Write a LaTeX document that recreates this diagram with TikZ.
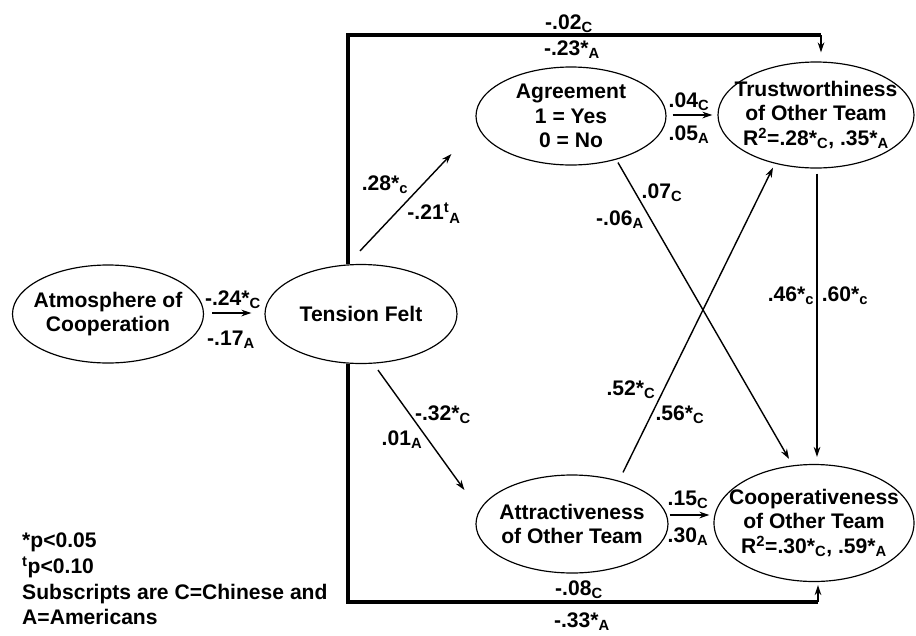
\documentclass[tikz,border=0pt]{standalone}
\usepackage{fontspec}
\setmainfont{Liberation Sans}
\usetikzlibrary{shapes.geometric, arrows.meta}

\tikzset{
  oval/.style={ellipse, draw, line width=1pt, inner sep=0pt},
  txt/.style={align=center, inner sep=0pt},
  lab/.style={inner sep=0pt},
  arr/.style={-{Stealth[length=3mm,width=2mm]}, line width=1.2pt},
  boxline/.style={line width=2.6pt},
}

\begin{document}
\begin{tikzpicture}[x=0.3mm, y=-0.3mm, font=\fontsize{18}{21}\selectfont\bfseries]
  \useasboundingbox (0,0) rectangle (916,635);

  % variables
  \node[oval, minimum width=57.3mm, minimum height=29.4mm] (atm) at (108,314) {};
  \node[txt] (atmt) at (atm) {Atmosphere of\\Cooperation};
  \node[oval, minimum width=57.6mm, minimum height=29.7mm] (ten) at (361,314) {};
  \node[txt] (tent) at (ten) {Tension Felt};
  \node[oval, minimum width=57mm, minimum height=29.4mm] (agr) at (571,116) {};
  \node[txt] (agrt) at (agr) {Agreement\\1 = Yes\\0 = No};
  \node[oval, minimum width=58.8mm, minimum height=31.8mm] (trs) at (816,115) {};
  \node[txt] (trst) at (trs) {Trustworthiness\\of Other Team\\R\textsuperscript{2}=.28*\textsubscript{C}, .35*\textsubscript{A}};
  \node[oval, minimum width=57.6mm, minimum height=29.4mm] (att) at (572,524) {};
  \node[txt] (attt) at (att) {Attractiveness\\of Other Team};
  \node[oval, minimum width=60mm, minimum height=35.1mm] (coo) at (814,523) {};
  \node[txt] (coot) at (coo) {Cooperativeness\\of Other Team\\R\textsuperscript{2}=.30*\textsubscript{C}, .59*\textsubscript{A}};

  % paths
  \draw[arr] ([shift={(8,-1)}]atm.east) -- ([shift={(-13,-1)}]ten.west);
  \draw[arr] ([shift={(-1,-13)}]ten.north) -- ([shift={(-24,38)}]agr.west);
  \draw[arr] ([shift={(17,6)}]ten.south) -- ([shift={(-11,-34)}]att.west);
  \draw[arr] ([shift={(6,-1)}]agr.east) -- ([shift={(-5,0)}]trs.west);
  \draw[arr] ([shift={(47,-3)}]agr.south) -- ([shift={(-25,-5)}]coo.north);
  \draw[arr] ([shift={(51,-2)}]att.north) -- ([shift={(-43,-1)}]trs.south);
  \draw[arr] ([shift={(1,5)}]trs.south) -- ([shift={(3,-7)}]coo.north);
  \draw[arr] ([shift={(1,-9)}]att.east) -- ([shift={(-4,-8)}]coo.west);

  % direct paths from tension, round the box
  \coordinate (tl) at (348,35);
  \coordinate (tr) at (821,35);
  \draw[boxline] ([shift={(-13,0)}]ten.north) -- (tl) -- (tr);
  \draw[arr] (tr) -- ([shift={(5,-9)}]trs.north);
  \coordinate (bl) at (348,602);
  \coordinate (br) at (818,602);
  \draw[boxline] ([shift={(-13,0)}]ten.south) -- (bl) -- (br);
  \draw[arr] (br) -- ([shift={(4,3)}]coo.south);

  % coefficients
  \node[lab] (l24) at (233,300) {-.24*\textsubscript{C}};
  \node[lab] (l17) at (231,340) {-.17\textsubscript{A}};
  \node[lab] (l28) at (385,185) {.28*\textsubscript{c}};
  \node[lab] (l21) at (434,213) {-.21\textsuperscript{t}\textsubscript{A}};
  \node[lab] (l32) at (443,415) {-.32*\textsubscript{C}};
  \node[lab] (l01) at (402,440) {.01\textsubscript{A}};
  \node[lab] (l02) at (569,24) {-.02\textsubscript{C}};
  \node[lab] (l23) at (572,50) {-.23*\textsubscript{A}};
  \node[lab] (l04) at (689,102) {.04\textsubscript{C}};
  \node[lab] (l05) at (689,135) {.05\textsubscript{A}};
  \node[lab] (l07) at (662,193) {.07\textsubscript{C}};
  \node[lab] (l06) at (620,220) {-.06\textsubscript{A}};
  \node[lab] (l46) at (791,296) {.46*\textsubscript{c}};
  \node[lab] (l60) at (845,296) {.60*\textsubscript{c}};
  \node[lab] (l52) at (631,390) {.52*\textsubscript{C}};
  \node[lab] (l56) at (680,415) {.56*\textsubscript{C}};
  \node[lab] (l15) at (688,500) {.15\textsubscript{C}};
  \node[lab] (l30) at (688,537) {.30\textsubscript{A}};
  \node[lab] (l08) at (579,590) {-.08\textsubscript{C}};
  \node[lab] (l33) at (582,622) {-.33*\textsubscript{A}};

  % legend
  \node[txt, align=left, anchor=west, font=\fontsize{18}{22}\selectfont\bfseries] (legend) at (22,579)
    {*p<0.05\\\textsuperscript{t}p<0.10\\Subscripts are C=Chinese and\\A=Americans};
\end{tikzpicture}
\end{document}
